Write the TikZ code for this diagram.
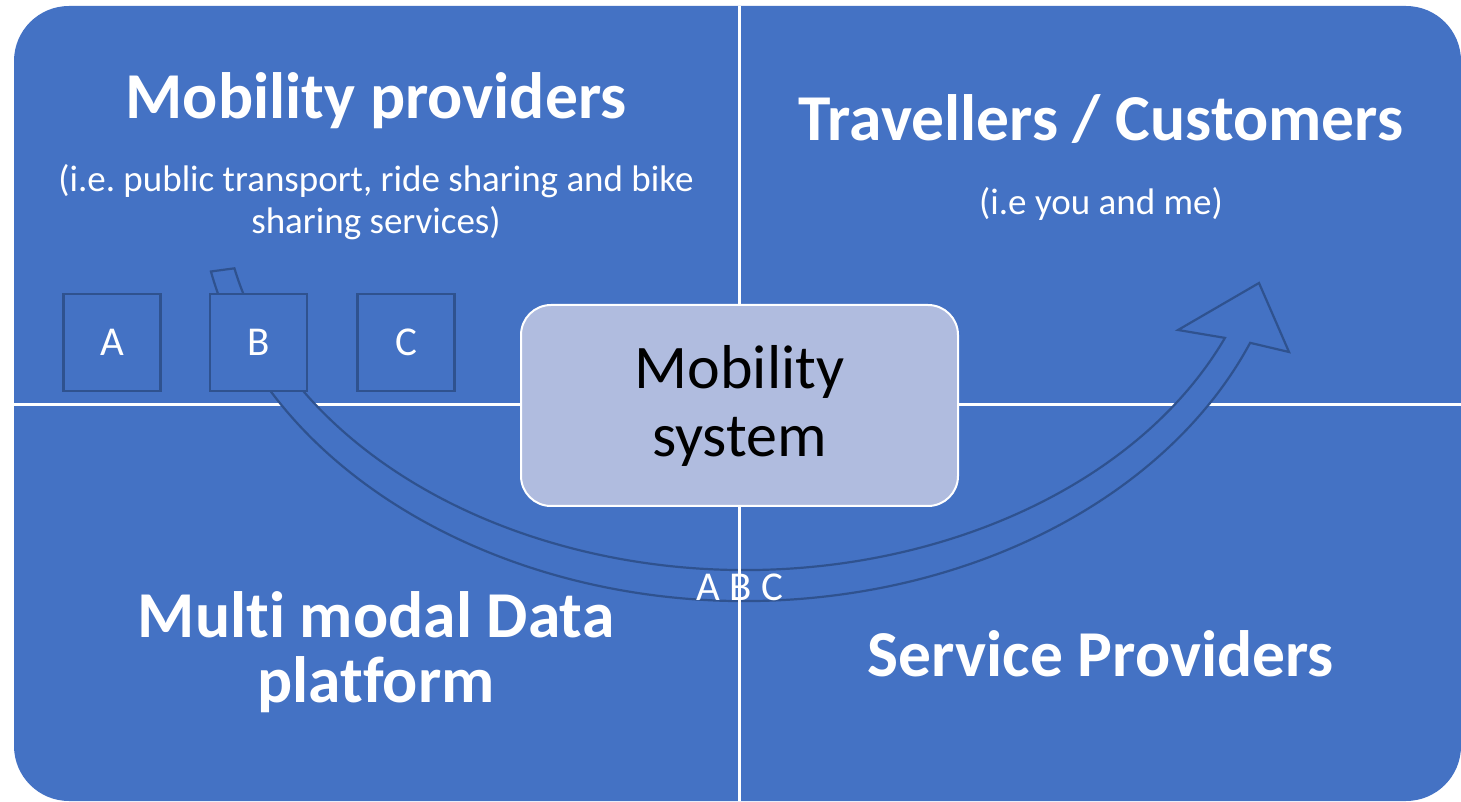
\documentclass[tikz,border=0pt]{standalone}
\usepackage{fontspec}
\setmainfont{Carlito}[Ligatures=NoCommon]
\frenchspacing
\definecolor{quadblue}{HTML}{4472C4}
\definecolor{edgeblue}{HTML}{2F528F}
\definecolor{sysfill}{HTML}{B0BCDF}

\begin{document}
\begin{tikzpicture}[x=1pt, y=1pt,
    title/.style={text=white, font=\fontsize{65.5}{70}\selectfont\bfseries, anchor=base, inner sep=0},
    subtitle/.style={text=white, font=\fontsize{37}{44}\selectfont, anchor=base, inner sep=0},
    letterbox/.style={draw=edgeblue, line width=2.4pt, fill=quadblue, minimum size=97pt, inner sep=0, text=white, font=\fontsize{41}{48}\selectfont},
    arrowband/.style={draw=edgeblue, line width=2.2pt, fill=quadblue},
    divider/.style={draw=white, line width=3pt}]
    \useasboundingbox (0,0) rectangle (1461,801);
    \fill[quadblue, rounded corners=55pt] (14,0) rectangle (1461,795);

    % quadrant borders
    \coordinate (hl) at (14,396);
    \coordinate (hr) at (1461,396);
    \coordinate (vt) at (739,795);
    \coordinate (vb) at (739,0);
    \draw[divider] (hl) -- (hr);

    % curved arrow from the providers to the travellers
    \coordinate (ac) at (745,616);
    \coordinate (barbR) at (1289,449);
    \coordinate (tip) at (1259,518);
    \coordinate (barbL) at (1178,471);
    \draw[arrowband] ([shift={(192:546pt and 416pt)}]ac)
        arc[start angle=192, end angle=337.7, x radius=546pt, y radius=416pt]
        -- (barbR) -- (tip) -- (barbL)
        -- ([shift={(336.6:523pt and 385pt)}]ac)
        arc[start angle=336.6, end angle=192.5, x radius=523pt, y radius=385pt] -- cycle;
    \draw[divider] (vt) -- (vb);

    \foreach \l/\x in {A/112, B/258.5, C/406} {
        \node[letterbox] (box\l) at (\x,458.5) {\l};
    }

    \node[draw=white, line width=2pt, fill=sysfill, rounded corners=30pt,
        minimum width=437pt, minimum height=201pt, inner sep=0, align=center,
        font=\fontsize{62}{68}\selectfont] (sys) at (739.5,395.5) {Mobility\\system};

    % quadrant texts
    \node[title] (prov) at (376,682) {Mobility providers};
    \node[subtitle] (provsubA) at (376,609) {(i.e. public transport, ride sharing and bike};
    \node[subtitle] (provsubB) at (376,567) {sharing services)};
    \node[title] (trav) at (1101,660) {Travellers / Customers};
    \node[subtitle] (travsub) at (1101,586) {(i.e you and me)};
    \node[title] (dataA) at (376,164) {Multi modal Data};
    \node[title] (dataB) at (376,99) {platform};
    \node[title] (serv) at (1101,125) {Service Providers};
    \node[subtitle, font=\fontsize{41}{48}\selectfont] (abc) at (740,201) {A B C};
\end{tikzpicture}
\end{document}
